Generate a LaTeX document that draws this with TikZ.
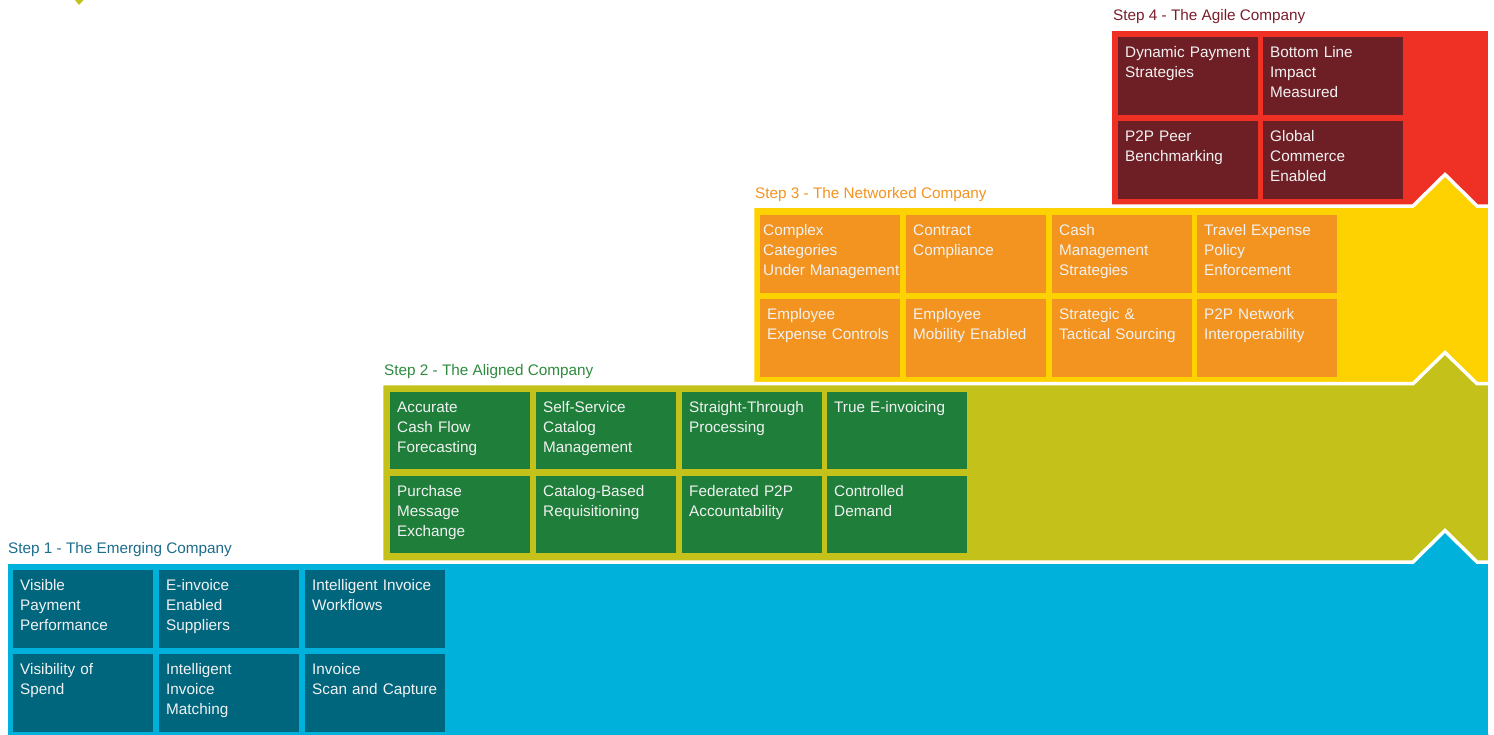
\documentclass[tikz,border=0pt]{standalone}
\usepackage{fontspec}
\setmainfont{Liberation Sans}
\definecolor{bandblue}{HTML}{00B2DB}
\definecolor{bandolive}{HTML}{C4C21A}
\definecolor{bandyellow}{HTML}{FDD200}
\definecolor{bandred}{HTML}{EE3124}
\definecolor{tileblue}{HTML}{00667E}
\definecolor{tilegreen}{HTML}{1E7E3A}
\definecolor{tileorange}{HTML}{F39320}
\definecolor{tilered}{HTML}{6D1F25}
\definecolor{titleblue}{HTML}{1C6C8C}
\definecolor{titlegreen}{HTML}{2E8B3E}
\definecolor{titleorange}{HTML}{F39320}
\definecolor{titlered}{HTML}{7A1E2C}
\definecolor{paletext}{HTML}{F2F2F2}
\tikzset{
    tile/.style = {fill = #1, anchor = north west, minimum width = 140pt, minimum height = 78pt, inner sep = 0pt, outer sep = 0pt},
    tiletext/.style = {anchor = base west, xshift = 7pt, yshift = -20pt, text width = 140pt, align = left, inner sep = 0pt, text = paletext, font = \fontsize{15.3}{20}\selectfont},
    steptitle/.style = {anchor = base west, inner sep = 0pt, font = \fontsize{15.3}{20}\selectfont},
    band/.style = {draw = white, line width = 3.5pt, line join = miter}
}

\begin{document}
\begin{tikzpicture}[x = 1pt, y = -1pt]
        \useasboundingbox (0, 0) rectangle (1494, 734);
        \fill [bandolive] (75, 0) -- (83.5, 0) -- (79, 5) -- cycle;
        \fill [bandred] (1112, 31) rectangle (1488.5, 215);
        \draw [band, fill = bandyellow] (752.5, 206) -- (1413, 206) -- (1445, 174.5) -- (1477, 206) -- (1490, 206) -- (1490, 395) -- (752.5, 395) -- cycle;
        \draw [band, fill = bandolive] (381.5, 383.7) -- (1413, 383.7) -- (1445, 352.5) -- (1477, 383.7) -- (1490, 383.7) -- (1490, 575) -- (381.5, 575) -- cycle;
        \draw [band, fill = bandblue] (6, 562) -- (1413, 562) -- (1445, 530.5) -- (1477, 562) -- (1490, 562) -- (1490, 745) -- (6, 745) -- cycle;
        \fill [white] (1487.5, 0) rectangle (1494, 734);

        \node [steptitle, text = titlered] (title4) at (1113, 20) {Step 4 - The Agile Company};
        \node [tile = tilered, label = {[tiletext]north west:{Dynamic Payment\\Strategies}}] (dynpay) at (1118, 37) {};
        \node [tile = tilered, label = {[tiletext]north west:{Bottom Line\\Impact\\Measured}}] (bottomline) at (1263, 37) {};
        \node [tile = tilered, label = {[tiletext]north west:{P2P Peer\\Benchmarking}}] (peerbench) at (1118, 121) {};
        \node [tile = tilered, label = {[tiletext]north west:{Global\\Commerce\\Enabled}}] (globalcom) at (1263, 121) {};

        \node [steptitle, text = titleorange] (title3) at (755, 198) {Step 3 - The Networked Company};
        \node [tile = tileorange, label = {[tiletext, xshift = -4pt]north west:{Complex\\Categories\\Under Management}}] (complexcat) at (760, 215) {};
        \node [tile = tileorange, label = {[tiletext]north west:{Contract\\Compliance}}] (contract) at (906, 215) {};
        \node [tile = tileorange, label = {[tiletext]north west:{Cash\\Management\\Strategies}}] (cashmgmt) at (1052, 215) {};
        \node [tile = tileorange, label = {[tiletext]north west:{Travel Expense\\Policy\\Enforcement}}] (travel) at (1197, 215) {};
        \node [tile = tileorange, label = {[tiletext]north west:{Employee\\Expense Controls}}] (expense) at (760, 299) {};
        \node [tile = tileorange, label = {[tiletext]north west:{Employee\\Mobility Enabled}}] (mobility) at (906, 299) {};
        \node [tile = tileorange, label = {[tiletext]north west:{Strategic \&\\Tactical Sourcing}}] (sourcing) at (1052, 299) {};
        \node [tile = tileorange, label = {[tiletext]north west:{P2P Network\\Interoperability}}] (interop) at (1197, 299) {};

        \node [steptitle, text = titlegreen] (title2) at (384, 375) {Step 2 - The Aligned Company};
        \node [tile = tilegreen, minimum height = 77pt, label = {[tiletext]north west:{Accurate\\Cash Flow\\Forecasting}}] (cashflow) at (390, 392) {};
        \node [tile = tilegreen, minimum height = 77pt, label = {[tiletext]north west:{Self-Service\\Catalog\\Management}}] (selfservice) at (536, 392) {};
        \node [tile = tilegreen, minimum height = 77pt, label = {[tiletext]north west:{Straight-Through\\Processing}}] (straight) at (682, 392) {};
        \node [tile = tilegreen, minimum height = 77pt, label = {[tiletext]north west:{True E-invoicing}}] (trueinv) at (827, 392) {};
        \node [tile = tilegreen, minimum height = 77pt, label = {[tiletext]north west:{Purchase\\Message\\Exchange}}] (purchase) at (390, 476) {};
        \node [tile = tilegreen, minimum height = 77pt, label = {[tiletext]north west:{Catalog-Based\\Requisitioning}}] (catalog) at (536, 476) {};
        \node [tile = tilegreen, minimum height = 77pt, label = {[tiletext]north west:{Federated P2P\\Accountability}}] (federated) at (682, 476) {};
        \node [tile = tilegreen, minimum height = 77pt, label = {[tiletext]north west:{Controlled\\Demand}}] (demand) at (827, 476) {};

        \node [steptitle, text = titleblue] (title1) at (8, 553) {Step 1 - The Emerging Company};
        \node [tile = tileblue, label = {[tiletext]north west:{Visible\\Payment\\Performance}}] (payperf) at (13, 570) {};
        \node [tile = tileblue, label = {[tiletext]north west:{E-invoice\\Enabled\\Suppliers}}] (einvoice) at (159, 570) {};
        \node [tile = tileblue, label = {[tiletext]north west:{Intelligent Invoice\\Workflows}}] (workflows) at (305, 570) {};
        \node [tile = tileblue, label = {[tiletext]north west:{Visibility of\\Spend}}] (spend) at (13, 654) {};
        \node [tile = tileblue, label = {[tiletext]north west:{Intelligent\\Invoice\\Matching}}] (matching) at (159, 654) {};
        \node [tile = tileblue, label = {[tiletext]north west:{Invoice\\Scan and Capture}}] (scan) at (305, 654) {};
    \end{tikzpicture}
\end{document}
